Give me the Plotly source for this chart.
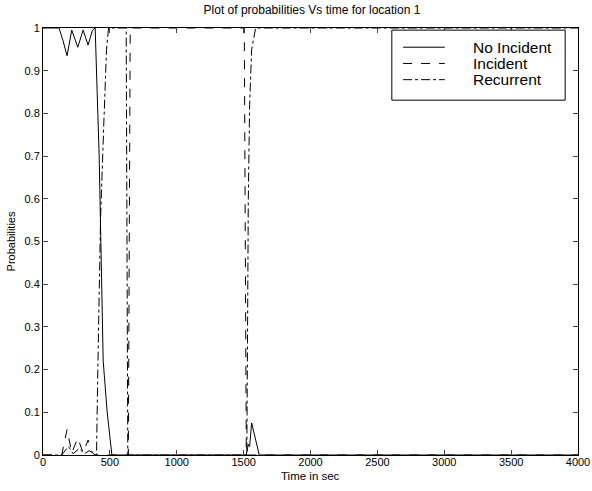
import plotly.graph_objects as go

# Data
no_incident_t = [0, 120, 150, 180, 215, 260, 300, 337, 370, 390, 405, 420, 450, 480, 515, 1520, 1535, 1545, 1560, 1590, 1617, 4000]
no_incident_p = [1, 1, 0.97, 0.935, 0.995, 0.955, 0.995, 0.96, 0.995, 1.0, 0.85, 0.7, 0.22, 0.1, 0, 0, 0.025, 0.02, 0.075, 0.035, 0, 0]

incident_t = [0, 140, 180, 215, 260, 300, 337, 370, 390, 638, 652, 1505, 1520, 4000]
incident_p = [0, 0, 0.06, 0.005, 0.04, 0.005, 0.035, 0.005, 0, 0, 1, 1, 0, 0]

recurrent_t = [0, 140, 190, 225, 270, 310, 345, 380, 400, 410, 430, 455, 475, 490, 622, 634, 1524, 1535, 1545, 1560, 1590, 4000]
recurrent_p = [0, 0, 0.02, 0.003, 0.015, 0.003, 0.01, 0.003, 0, 0.2, 0.55, 0.78, 0.95, 1.0, 1.0, 0, 0, 0.6, 0.82, 0.95, 1.0, 1.0]

series_names = ["No Incident", "Incident", "Recurrent"]
series_dash = ["solid", "dash", "dashdot"]

x_ticks = [0, 500, 1000, 1500, 2000, 2500, 3000, 3500, 4000]
y_ticks = [0, 0.1, 0.2, 0.3, 0.4, 0.5, 0.6, 0.7, 0.8, 0.9, 1]
y_tick_labels = ["0", "0.1", "0.2", "0.3", "0.4", "0.5", "0.6", "0.7", "0.8", "0.9", "1"]

font = "Liberation Sans, Arial, sans-serif"

fig = go.Figure()
series = [(no_incident_t, no_incident_p), (incident_t, incident_p), (recurrent_t, recurrent_p)]
for (t, p), name, dash in zip(series, series_names, series_dash):
    fig.add_trace(go.Scatter(x=t, y=p, mode="lines", name=name, showlegend=False,
                             line=dict(color="black", width=1, dash=dash)))

# Legend box drawn in MATLAB style
shapes = [dict(type="rect", xref="paper", yref="paper", x0=0.652, x1=0.976, y0=0.831, y1=0.995,
               line=dict(color="black", width=1), fillcolor="white", layer="above")]
annotations = []
row_y = [0.955, 0.917, 0.879]
for name, dash, yy in zip(series_names, series_dash, row_y):
    shapes.append(dict(type="line", xref="paper", yref="paper", x0=0.673, x1=0.751, y0=yy, y1=yy,
                       line=dict(color="black", width=1, dash=dash), layer="above"))
    annotations.append(dict(xref="paper", yref="paper", x=0.802, y=yy, text=name, showarrow=False,
                            xanchor="left", yanchor="middle", height=15, borderpad=0,
                            font=dict(size=15.5, family=font, color="black")))

annotations.append(dict(xref="paper", yref="paper", x=0.5, y=-0.05, text="Time in sec",
                        showarrow=False, xanchor="center", yanchor="middle", height=12, borderpad=0,
                        font=dict(size=11.5, family=font, color="black")))

fig.update_layout(
    width=592, height=491,
    margin=dict(l=43, r=14, t=28, b=36),
    paper_bgcolor="white", plot_bgcolor="white",
    font=dict(family=font, color="black", size=11),
    title=dict(text="Plot of probabilities Vs time for location 1", x=0.527, xanchor="center",
               y=0.988, yanchor="top", font=dict(size=12)),
    showlegend=False,
    shapes=shapes,
    annotations=annotations,
    xaxis=dict(range=[0, 4000], tickvals=x_ticks, ticks="inside", ticklen=5, automargin=False,
               showline=True, linecolor="black", linewidth=1, mirror="allticks",
               showgrid=False, zeroline=False, tickfont=dict(size=11), ticklabelstandoff=-3),
    yaxis=dict(range=[0, 1], tickvals=y_ticks, ticktext=y_tick_labels, ticks="inside", ticklen=5,
               automargin=False,
               showline=True, linecolor="black", linewidth=1, mirror="allticks",
               showgrid=False, zeroline=False,
               title=dict(text="Probabilities", font=dict(size=11), standoff=6),
               tickfont=dict(size=11)),
)

fig.write_html("out.html")
